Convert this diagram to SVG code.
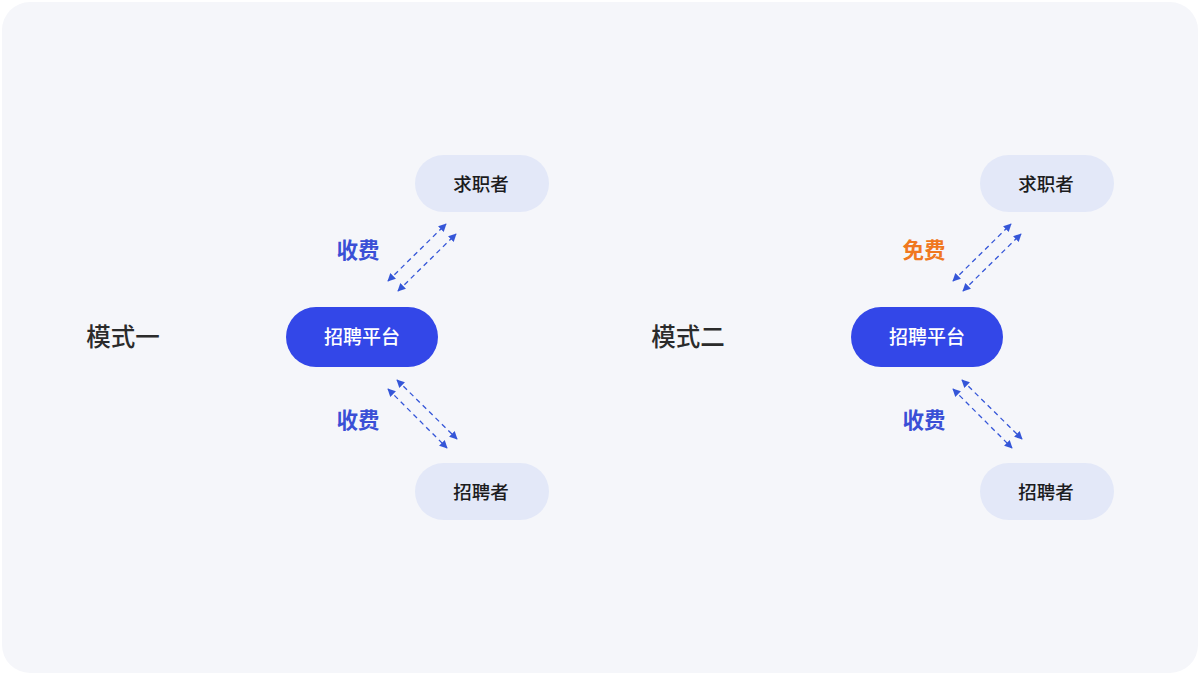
<svg xmlns="http://www.w3.org/2000/svg" width="1200" height="675" viewBox="0 0 1200 675">
<style>
.t{font-family:"Noto Sans CJK SC","Noto Sans",sans-serif;text-anchor:middle;dominant-baseline:central}
.light{fill:#e3e8f8}
.dark{fill:#3347e8}
.nt{font-size:18.5px;font-weight:500;fill:#1c1c1e}
.pt{font-size:19px;font-weight:500;fill:#ffffff}
.mode{font-size:24.5px;font-weight:500;fill:#2b2b2b}
.fee{font-size:21.5px;font-weight:700;fill:#3a4fd6}
.free{font-size:21.5px;font-weight:700;fill:#f07820}
.ar{stroke:#3556d8;stroke-width:1.3;stroke-dasharray:5 4;fill:none;marker-start:url(#ah);marker-end:url(#ah)}
</style>
<defs>
<marker id="ah" viewBox="0 0 10 10" refX="9" refY="5" markerWidth="8" markerHeight="8" orient="auto-start-reverse" markerUnits="userSpaceOnUse">
<path d="M0,0 L10,5 L0,10 z" fill="#3556d8"/>
</marker>
</defs>
<rect x="0" y="0" width="1200" height="675" fill="#ffffff"/>
<rect x="2" y="2" width="1196" height="671" rx="28" fill="#f5f6fa"/>

<g id="connectors">
<line class="ar" x1="388" y1="281" x2="446" y2="224"/>
<line class="ar" x1="398" y1="291" x2="456" y2="234"/>
<line class="ar" x1="397" y1="380" x2="457" y2="439"/>
<line class="ar" x1="388" y1="389" x2="447" y2="448"/>
<line class="ar" x1="953" y1="281" x2="1011" y2="224"/>
<line class="ar" x1="963" y1="291" x2="1021" y2="234"/>
<line class="ar" x1="962" y1="380" x2="1022" y2="439"/>
<line class="ar" x1="953" y1="389" x2="1012" y2="448"/>
</g>

<g id="mode1-label"><text class="t mode" x="123" y="335">模式一</text></g>
<g id="mode1-fee-top"><text class="t fee" x="358" y="248">收费</text></g>
<g id="mode1-fee-bottom"><text class="t fee" x="358" y="418">收费</text></g>
<g id="mode1-seeker"><rect class="light" x="415" y="155" width="134" height="57" rx="28.5"/><text class="t nt" x="481" y="182.5">求职者</text></g>
<g id="mode1-platform"><rect class="dark" x="286" y="307" width="152" height="60" rx="30"/><text class="t pt" x="362" y="335.5">招聘平台</text></g>
<g id="mode1-recruiter"><rect class="light" x="415" y="463" width="134" height="57" rx="28.5"/><text class="t nt" x="481" y="490.5">招聘者</text></g>

<g id="mode2-label"><text class="t mode" x="688" y="335">模式二</text></g>
<g id="mode2-fee-top"><text class="t free" x="924" y="248">免费</text></g>
<g id="mode2-fee-bottom"><text class="t fee" x="924" y="418">收费</text></g>
<g id="mode2-seeker"><rect class="light" x="980" y="155" width="134" height="57" rx="28.5"/><text class="t nt" x="1046" y="182.5">求职者</text></g>
<g id="mode2-platform"><rect class="dark" x="851" y="307" width="152" height="60" rx="30"/><text class="t pt" x="927" y="335.5">招聘平台</text></g>
<g id="mode2-recruiter"><rect class="light" x="980" y="463" width="134" height="57" rx="28.5"/><text class="t nt" x="1046" y="490.5">招聘者</text></g>
</svg>
